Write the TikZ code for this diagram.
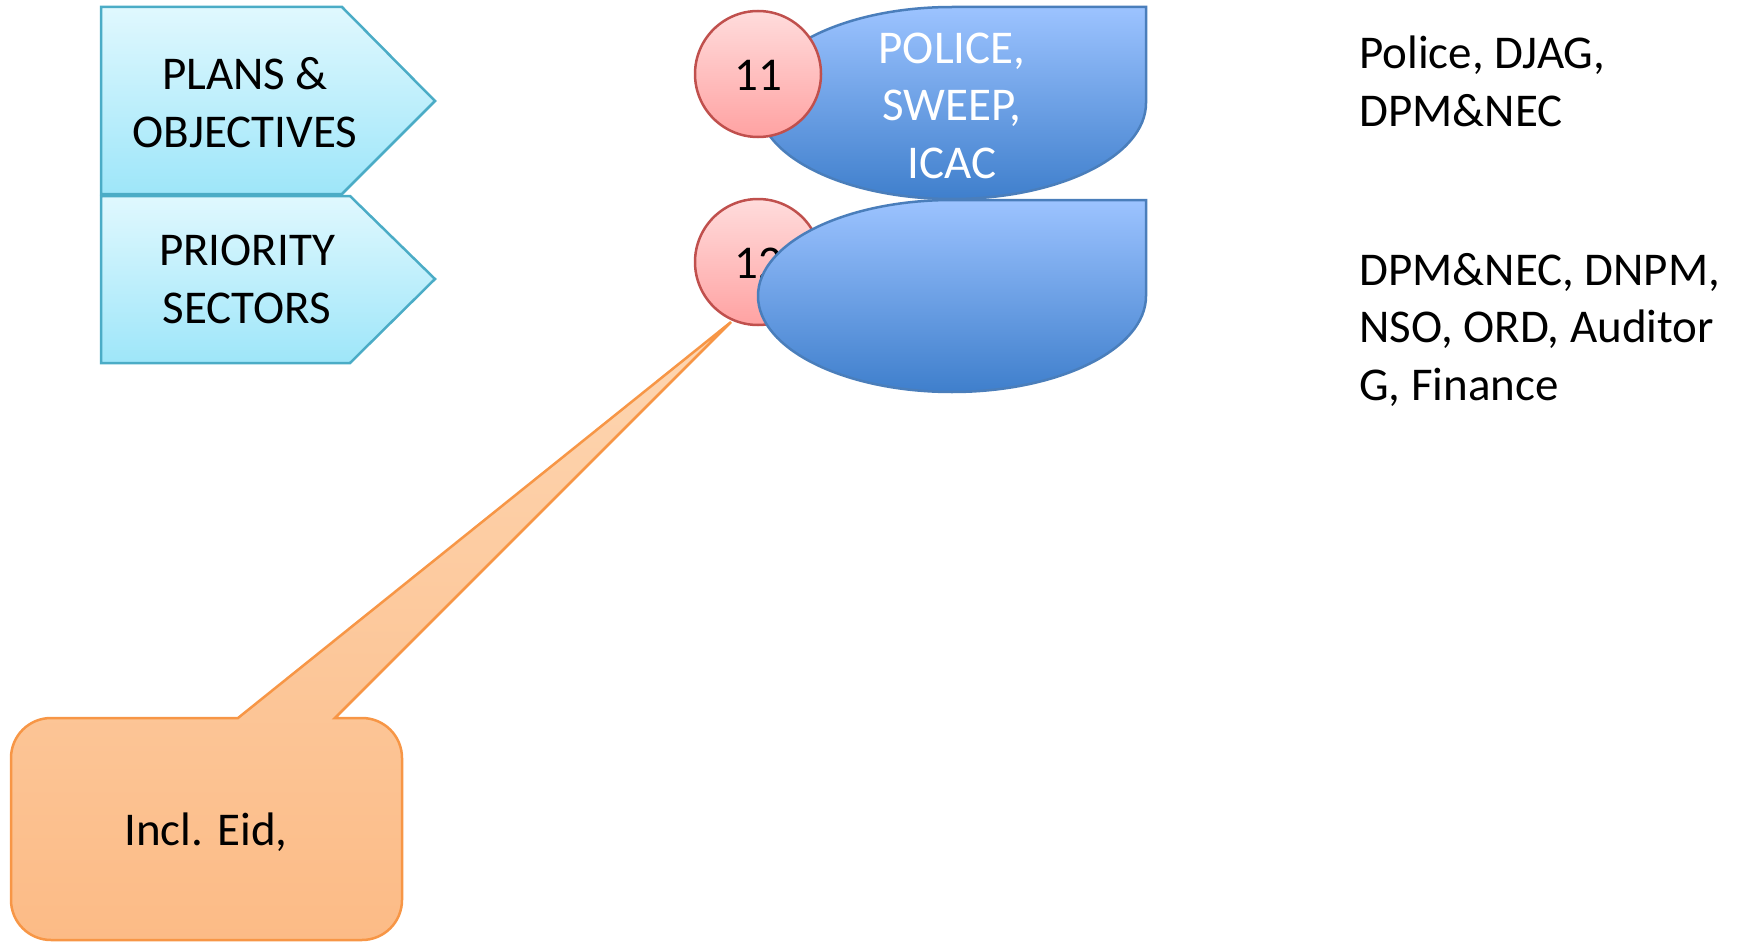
\documentclass[tikz,border=0pt]{standalone}
\usepackage{fontspec}
\setmainfont{Carlito}
\definecolor{pentTop}{HTML}{E0F8FE}
\definecolor{pentBot}{HTML}{9EE6F9}
\definecolor{pentLine}{HTML}{4BACC6}
\definecolor{circTop}{HTML}{FFDCDC}
\definecolor{circBot}{HTML}{FFA2A2}
\definecolor{circLine}{HTML}{C0504D}
\definecolor{blueTop}{HTML}{9CC3FF}
\definecolor{blueBot}{HTML}{3F7FCC}
\definecolor{blueLine}{HTML}{4A7EBB}
\definecolor{orTop}{HTML}{FDD6B2}
\definecolor{orBot}{HTML}{FCBB86}
\definecolor{orLine}{HTML}{F79646}
\tikzset{
  pent/.style={draw=pentLine, line width=2.5pt, top color=pentTop, bottom color=pentBot},
  badge/.style={circle, draw=circLine, line width=2.5pt, top color=circTop, bottom color=circBot, minimum size=126pt, inner sep=0pt},
  drop/.style={draw=blueLine, line width=2.5pt, top color=blueTop, bottom color=blueBot},
  callout/.style={draw=orLine, line width=2.5pt, top color=orTop, bottom color=orBot},
  txt/.style={inner sep=0pt, font=\fontsize{47pt}{57.5pt}\selectfont},
}
\begin{document}
\begin{tikzpicture}[x=1pt, y=-1pt]
\useasboundingbox (0,0) rectangle (1743,942);
% chevrons
\draw[pent] (101,7) -- (342,7) -- (435,101) -- (342,194) -- (101,194) -- cycle;
\draw[pent] (101,196) -- (350,196) -- (435,279) -- (350,363) -- (101,363) -- cycle;
\node[txt, align=center, anchor=base] (plans) at (245,147) {PLANS \&\\OBJECTIVES};
\node[txt, align=center, anchor=base] (prio) at (247,323) {PRIORITY\\SECTORS};
% teardrop 1
\draw[drop] (1146,7) -- (1146,103) arc[start angle=0, end angle=-270, x radius=194pt, y radius=96pt] -- cycle;
\node[txt, text=white, align=center, anchor=base] (police) at (952,178) {POLICE,\\SWEEP,\\ICAC};
\node[badge] (c11) at (758,74) {};
\node[txt, anchor=base] (n11) at (758,90) {11};
% callout
\coordinate (tip) at (731,322);
\draw[callout] (238,718) -- (tip) -- (335,718) -- (362,718)
  arc[start angle=90, end angle=0, radius=40pt] -- (402,900)
  arc[start angle=0, end angle=-90, radius=40pt] -- (51,940)
  arc[start angle=-90, end angle=-180, radius=40pt] -- (11,758)
  arc[start angle=180, end angle=90, radius=40pt] -- cycle;
\node[txt] (incl) at (206,832) {Incl. Eid,};
% badge 12 and teardrop 2
\node[badge] (c12) at (758,262) {};
\node[txt, anchor=base] (n12) at (758,278) {12};
\draw[drop] (1146,200) -- (1146,296) arc[start angle=0, end angle=-270, x radius=194pt, y radius=96pt] -- cycle;
% right texts
\node[txt, align=left, anchor=base west] (r1) at (1359,126) {Police, DJAG,\\DPM\&NEC};
\node[txt, align=left, anchor=base west] (r2) at (1359,400) {DPM\&NEC, DNPM,\\NSO, ORD, Auditor\\G, Finance};
\end{tikzpicture}
\end{document}
